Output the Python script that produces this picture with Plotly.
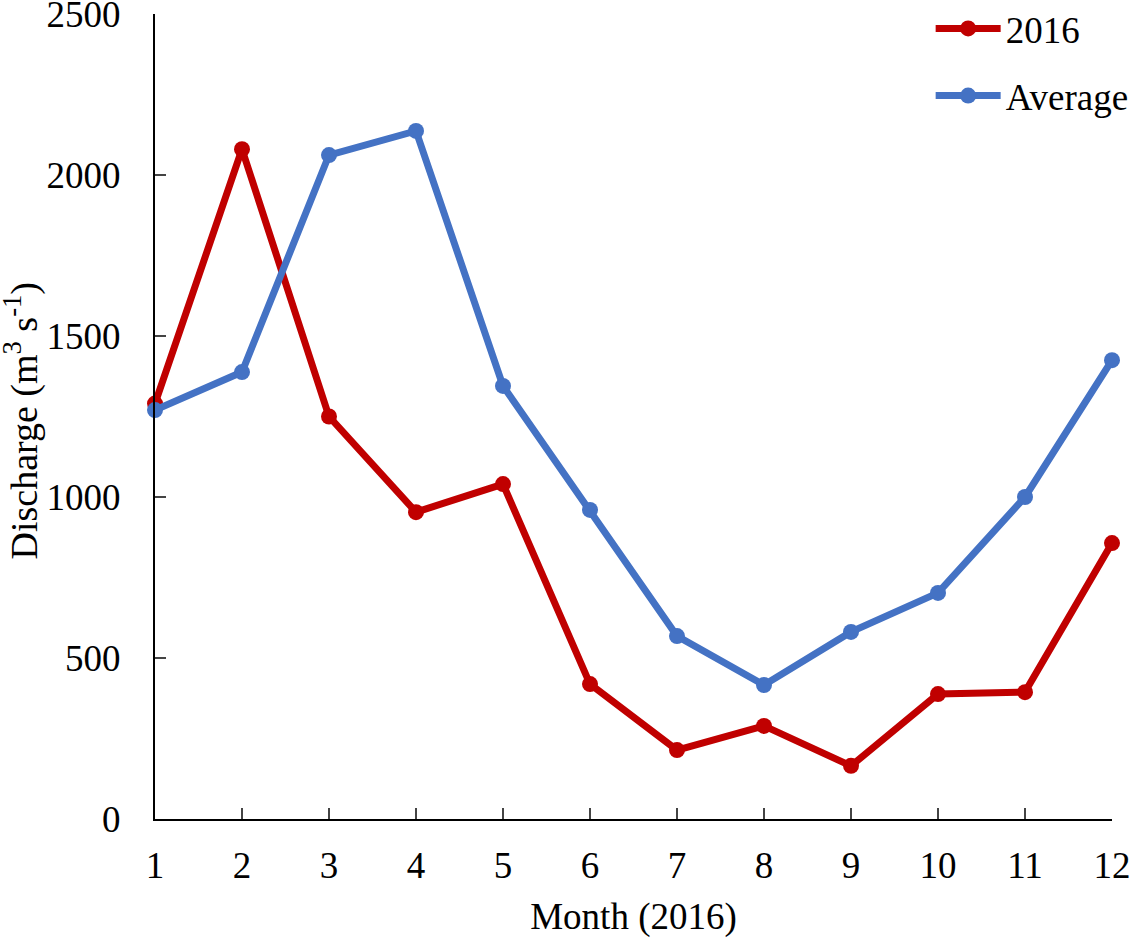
import plotly.graph_objects as go

# monthly discharge, m3/s
months = [1, 2, 3, 4, 5, 6, 7, 8, 9, 10, 11, 12]
discharge_2016 = [1290, 2080, 1250, 953, 1040, 419, 214, 289, 165, 388, 394, 857]
discharge_avg = [1270, 1388, 2062, 2137, 1345, 960, 568, 416, 581, 702, 1000, 1425]
y_ticks = [0, 500, 1000, 1500, 2000, 2500]

FONT = 'Liberation Serif, Times New Roman, serif'

line_2016 = go.Scatter(x=months, y=discharge_2016, name='2016', mode='lines+markers',
                       line=dict(color='#C00000', width=7),
                       marker=dict(color='#C00000', size=16),
                       cliponaxis=False, legendgroup='a')
line_avg = go.Scatter(x=months, y=discharge_avg, name='Average', mode='lines+markers',
                      line=dict(color='#4472C4', width=7),
                      marker=dict(color='#4472C4', size=16),
                      cliponaxis=False, legendgroup='b')

fig = go.Figure([line_2016, line_avg])
fig.update_layout(
    width=1130, height=941,
    margin=dict(l=155, r=18, t=14, b=122, autoexpand=False),
    paper_bgcolor='white', plot_bgcolor='white',
    font=dict(family=FONT, size=37, color='black'),
    legend=dict(x=0.8105, y=1.02, xanchor='left', yanchor='top',
                bgcolor='rgba(0,0,0,0)', tracegroupgap=16, itemwidth=65,
                font=dict(size=37)),
    xaxis=dict(range=[1, 12], tickvals=months, ticks='inside', ticklen=11, tickwidth=2,
               showline=True, linecolor='black', linewidth=2, showgrid=False, zeroline=False,
               ticklabelstandoff=13, automargin=False, ticklabeloverflow='allow',
               title=dict(text='Month (2016)', standoff=18, font=dict(size=37))),
    yaxis=dict(range=[0, 2500], tickvals=y_ticks, ticks='inside', ticklen=11, tickwidth=2,
               showline=True, linecolor='black', linewidth=2, showgrid=False, zeroline=False,
               ticklabelstandoff=25, automargin=False, ticklabeloverflow='allow'),
)
# y title as an annotation so it can sit closer to the page edge
fig.add_annotation(text='Discharge (m<sup>3</sup> s<sup>-1</sup>)', textangle=-90,
                   xref='paper', yref='paper', x=-0.139, y=0.495,
                   xanchor='center', yanchor='middle', showarrow=False,
                   font=dict(size=38))
# drop the default 8px body margin so the figure sits at the window corner
fig.write_html('out.html', config={'displayModeBar': False},
               post_script="document.body.style.margin='0';")
